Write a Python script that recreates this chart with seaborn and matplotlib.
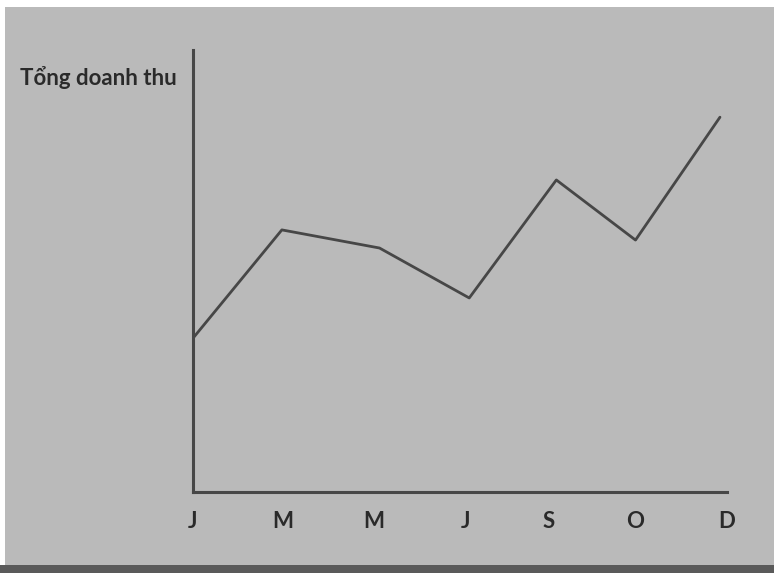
import numpy as np
import pandas as pd
import matplotlib
matplotlib.use("Agg")
import matplotlib.pyplot as plt
import seaborn as sns
from matplotlib.patches import Rectangle

# du lieu doc tu hinh (don vi tuy y, truc y tu 0 den 100)
thang = ["J", "M", "M", "J", "S", "O", "D"]
vi_tri_nhan = [0, 1.02, 2.06, 3.10, 4.04, 5.02, 6.07]
vi_tri_diem = [0, 1.01, 2.12, 3.14, 4.13, 5.03, 5.99]
doanh_thu = [34.8, 59.3, 55.2, 43.9, 70.6, 57.0, 84.8]

df = pd.DataFrame({"x": vi_tri_diem, "doanh_thu": doanh_thu})

sns.set_theme(style="white")
plt.rcParams["font.family"] = ["Lato", "DejaVu Sans"]

nen = "#bababa"
mau = "#474747"

fig = plt.figure(figsize=(7.74, 5.73), dpi=100)
fig.patch.set_facecolor(nen)

# vien scan: trang o tren/ben trai, toi o duoi
fig.patches.append(Rectangle((0, 1 - 7 / 573), 1, 7 / 573, transform=fig.transFigure,
                             facecolor="white", edgecolor="none", zorder=0))
fig.patches.append(Rectangle((0, 0), 5 / 774, 1, transform=fig.transFigure,
                             facecolor="white", edgecolor="none", zorder=0))
fig.patches.append(Rectangle((0, 0), 1, 8 / 573, transform=fig.transFigure,
                             facecolor="#5a5a5a", edgecolor="none", zorder=0))

ax = fig.add_axes([193 / 774, 1 - 492 / 573, (727 - 193) / 774, 442 / 573])
ax.set_facecolor(nen)

sns.lineplot(data=df, x="x", y="doanh_thu", ax=ax, color=mau, linewidth=2.0)

ax.set_xlim(0, 6.06)
ax.set_ylim(0, 100)
ax.set_xticks(vi_tri_nhan)
ax.set_xticklabels(thang, fontsize=16, color="#2a2a2a", fontweight="bold")
ax.tick_params(axis="x", length=0, pad=14)
ax.set_yticks([])
ax.set_xlabel("")
ax.set_ylabel("")

for s in ["top", "right"]:
    ax.spines[s].set_visible(False)
for s in ["left", "bottom"]:
    ax.spines[s].set_color(mau)
    ax.spines[s].set_linewidth(2.2)

fig.text(20 / 774, 1 - 78 / 573, "Tổng doanh thu", fontsize=16, color="#2a2a2a",
         ha="left", va="center", fontweight="bold")

plt.savefig("out.png", dpi=100, facecolor=fig.get_facecolor())
plt.close()
